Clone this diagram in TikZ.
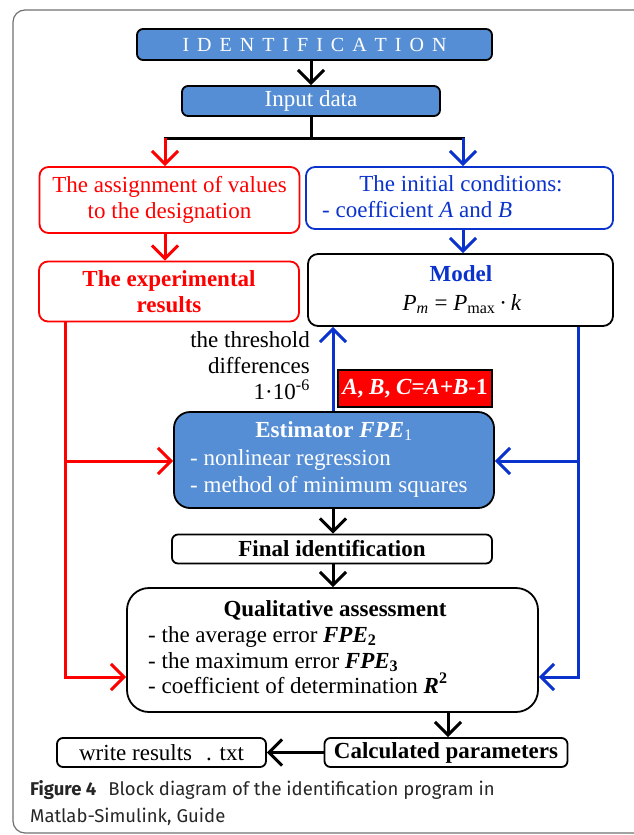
\documentclass[tikz,border=0pt]{standalone}
\usepackage{fontspec}
\setmainfont{Liberation Serif}
\newfontfamily\capfont{Fira Sans}
\usetikzlibrary{arrows.meta}
\definecolor{boxblue}{HTML}{558ED5}
\definecolor{lblue}{HTML}{0A32CC}
\definecolor{lred}{HTML}{FF0000}
\definecolor{frame}{HTML}{707070}
\begin{document}
\begin{tikzpicture}[x=1pt,y=-1pt,
  every node/.style={font=\fontsize{23}{26}\selectfont, inner sep=0pt},
  box/.style={draw=black, line width=1.8pt, rounded corners=6pt},
  bluefill/.style={box, fill=boxblue, text=white},
  redbox/.style={draw=lred, line width=1.8pt, rounded corners=9pt, text=lred, align=center},
  bluebox/.style={draw=lblue, line width=1.8pt, rounded corners=9pt},
  txt/.style={text height=15pt, text depth=5pt},
  arr/.style={line width=3pt, line join=miter, -{Straight Barb[length=13pt,width=26pt]}},
  blackarr/.style={arr, draw=black},
  redarr/.style={arr, draw=lred},
  bluearr/.style={arr, draw=lblue},
]
\useasboundingbox (0,0) rectangle (634,835);
\draw[frame, line width=1.2pt, rounded corners=12pt] (13,10) rectangle (680,833);

% boxes
\node[bluefill, minimum width=355, minimum height=31] (ident) at (314.5,44.5)
  {\fontsize{20}{24}\selectfont I\hspace{8pt}D\hspace{8pt}E\hspace{8pt}N\hspace{8pt}T\hspace{8pt}I\hspace{8pt}F\hspace{8pt}I\hspace{8pt}C\hspace{8pt}A\hspace{8pt}T\hspace{8pt}I\hspace{8pt}O\hspace{8pt}N};
\node[bluefill, minimum width=258, minimum height=30] (input) at (311,101) {Input data};

\node[redbox, minimum width=260, minimum height=66] (assign) at (169.5,200)
  {The assignment of values\\to the designation};
\node[bluebox, minimum width=307, minimum height=62] (init) at (459.5,198) {};
\node[txt, text=lblue] (init1) at (461,186) {The initial conditions:};
\node[txt, text=lblue, anchor=west] (init2) at (322,212) {- coefficient \textit{A} and \textit{B}};

\node[redbox, minimum width=260, minimum height=60, font=\fontsize{23}{26}\selectfont\bfseries] (exper) at (169,291.5)
  {The experimental\\results};
\node[box, rounded corners=10pt, minimum width=305, minimum height=72] (model) at (460.5,290) {};
\node[txt, text=lblue, font=\fontsize{23}{26}\selectfont\bfseries] (modelt) at (461,276) {Model};
\node[txt] (modelf) at (462,305) {\textit{P}\textsubscript{\textit{m}} = \textit{P}\textsubscript{max}\,·\,\textit{k}};

\node[align=right, anchor=east] (thr) at (310,366) {the threshold\\differences\\1·10\textsuperscript{-6}};
\node[fill=lred, draw=black, line width=1.5pt, minimum width=154, minimum height=37, text=white,
  font=\fontsize{23}{26}\selectfont\bfseries] (abc) at (415,388.5)
  {\textit{A}, \textit{B}, \textit{C}=\textit{A}+\textit{B}-1};

\node[bluefill, rounded corners=16pt, minimum width=320, minimum height=96] (est) at (334,460) {};
\node[txt, text=white, font=\fontsize{23}{26}\selectfont\bfseries] (estt) at (334,432) {Estimator \textit{FPE}\textsubscript{\mdseries 1}};
\node[txt, text=white, anchor=west] (est1) at (190,460) {- nonlinear regression};
\node[txt, text=white, anchor=west] (est2) at (190,487) {- method of minimum squares};

\node[box, minimum width=320, minimum height=29, font=\fontsize{23}{26}\selectfont\bfseries] (final) at (332,549) {Final identification};

\node[box, rounded corners=22pt, minimum width=411, minimum height=124] (qual) at (332.5,650) {};
\node[txt, font=\fontsize{23}{26}\selectfont\bfseries] (qualt) at (335,611) {Qualitative assessment};
\node[txt, anchor=west] (qual1) at (148,637) {- the average error \textbf{\textit{FPE}}\textsubscript{\textbf{2}}};
\node[txt, anchor=west] (qual2) at (148,663) {- the maximum error \textbf{\textit{FPE}}\textsubscript{\textbf{3}}};
\node[txt, anchor=west] (qual3) at (148,688) {- coefficient of determination \textbf{\textit{R}}\textsuperscript{\textbf{2}}};

\node[box, minimum width=243, minimum height=29, font=\fontsize{23}{26}\selectfont\bfseries] (calc) at (446,752.5) {Calculated parameters};
\node[box, minimum width=209, minimum height=29] (write) at (161.5,752.5) {write results\hspace{14pt}. txt};

% coordinates
\coordinate (sl) at (165,138);
\coordinate (sr) at (463,138);
\coordinate (rq) at (65,677);
\coordinate (rb) at (65,461);
\coordinate (bq) at (578,677);
\coordinate (bb) at (578,461);
\coordinate (bu) at (333,412);
\coordinate (qx) at (448,712);

% connectors
\draw[blackarr] (ident.south -| input) -- (input.north);
\draw[line width=3pt] (input.south) -- (input.south |- sl);
\draw[line width=3pt] ([xshift=-1.5pt]sl) -- ([xshift=1.5pt]sr);
\draw[redarr] (sl) -- (sl |- assign.north);
\draw[bluearr] (sr) -- (sr |- init.north);
\draw[redarr] (assign.south -| sl) -- (exper.north -| sl);
\draw[bluearr] (init.south -| sr) -- (model.north -| sr);
\draw[redarr] (exper.south -| rq) -- (rq) -- (qual.west |- rq);
\draw[redarr] (rb) -- (est.west |- rb);
\draw[bluearr] (model.south -| bq) -- (bq) -- (qual.east |- bq);
\draw[bluearr] (bb) -- (est.east |- bb);
\draw[bluearr] (est.north -| bu) -- (model.south -| bu);
\draw[blackarr] (est.south -| bu) -- (final.north -| bu);
\draw[blackarr] (final.south -| bu) -- (qual.north -| bu);
\draw[blackarr] (qual.south -| qx) -- (calc.north -| qx);
\draw[blackarr] (calc.west) -- (write.east);

% caption
\node[anchor=base west, align=left, text=black!85, font=\capfont\fontsize{18.5}{27}\selectfont] (cap) at (30,822)
  {\textbf{Figure 4}\hspace{12pt}Block diagram of the identification program in\\Matlab-Simulink, Guide};
\end{tikzpicture}
\end{document}
